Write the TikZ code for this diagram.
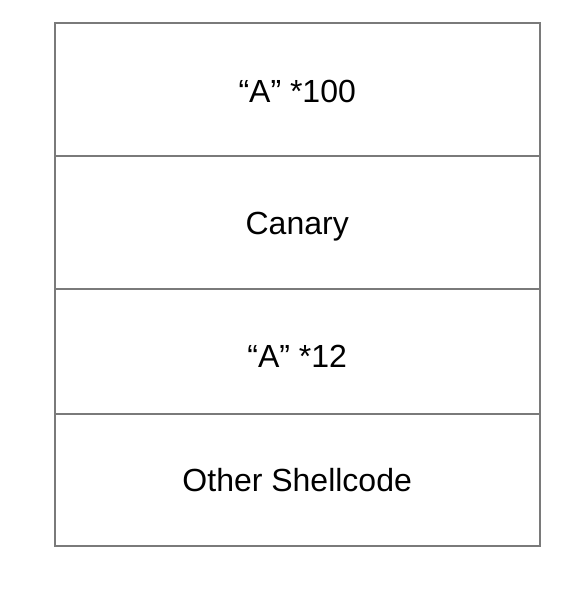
\documentclass[tikz,border=0pt]{standalone}
\usepackage{fontspec}
\setmainfont{Liberation Sans}
\usetikzlibrary{positioning}

\tikzset{
  slot/.style={draw=black!52, line width=2pt, minimum width=485pt,
    inner sep=0pt, outer sep=0pt, text height=23pt, text depth=0pt,
    font=\fontsize{32}{38}\selectfont},
}

\begin{document}
\begin{tikzpicture}[x=1pt,y=1pt]
\useasboundingbox (0,0) rectangle (580,-614);

\node[slot, minimum height=133pt, anchor=north, text height=27pt]
  (buf) at (297.2,-22.7) {“A” *100};
\node[slot, minimum height=133.6pt, below=0pt of buf] (canary) {Canary};
\node[slot, minimum height=124.4pt, below=0pt of canary, text height=31pt]
  (pad) {“A” *12};
\node[slot, minimum height=132.3pt, below=0pt of pad] (code) {Other Shellcode};

\end{tikzpicture}
\end{document}
